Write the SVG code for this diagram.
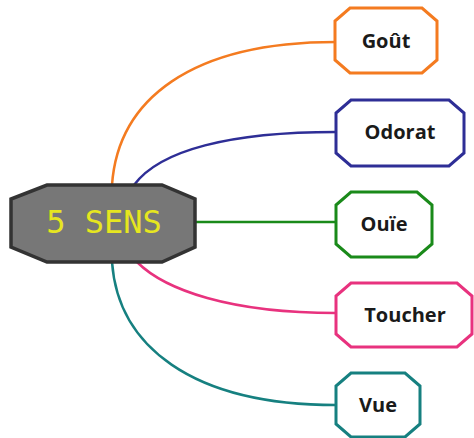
<svg xmlns="http://www.w3.org/2000/svg" width="474" height="438" viewBox="0 0 474 438">
<style>
.leaf{fill:#ffffff;stroke-width:3;stroke-linejoin:miter}
.lbl{font-family:"Open Sans","Liberation Sans",sans-serif;font-weight:bold;font-size:20px;fill:#1a1a1a;text-anchor:middle}
.con{fill:none;stroke-width:2.5}
</style>
<rect width="474" height="438" fill="#ffffff"/>
<g id="connectors">
<path class="con" stroke="#f47b20" d="M112,185 C118,100 190,42 336,42"/>
<path class="con" stroke="#2e2e96" d="M134,185 C160,150 230,132 336,132"/>
<path class="con" stroke="#1a8a1a" d="M195,222 L336,222"/>
<path class="con" stroke="#e8327e" d="M137,262 C165,290 230,313 336,313"/>
<path class="con" stroke="#168080" d="M112,262 C118,345 190,405 336,405"/>
</g>
<g id="center">
<polygon points="47,185 162,185 195,199 195,247 162,262 47,262 11,247 11,199" fill="#777777" stroke="#333333" stroke-width="3.5"/>
<text x="104" y="233" font-family="DejaVu Sans Mono,monospace" font-size="32" fill="#e6e620" text-anchor="middle">5 SENS</text>
</g>
<g id="gout">
<polygon class="leaf" stroke="#f47b20" points="350,8 422,8 437,21 437,60 422,73 350,73 335,60 335,21"/>
<text class="lbl" x="386" y="48">Goût</text>
</g>
<g id="odorat">
<polygon class="leaf" stroke="#2e2e96" points="351,100 449,100 464,113 464,153 449,166 351,166 336,153 336,113"/>
<text class="lbl" x="400" y="139">Odorat</text>
</g>
<g id="ouie">
<polygon class="leaf" stroke="#1a8a1a" points="351,192 417,192 432,205 432,244 417,257 351,257 336,244 336,205"/>
<text class="lbl" x="384" y="231">Ouïe</text>
</g>
<g id="toucher">
<polygon class="leaf" stroke="#e8327e" points="351,283 457,283 472,296 472,334 457,347 351,347 336,334 336,296"/>
<text class="lbl" x="405" y="322">Toucher</text>
</g>
<g id="vue">
<polygon class="leaf" stroke="#168080" points="351,373 405,373 420,386 420,424 405,437 351,437 336,424 336,386"/>
<text class="lbl" x="378" y="412">Vue</text>
</g>
</svg>
